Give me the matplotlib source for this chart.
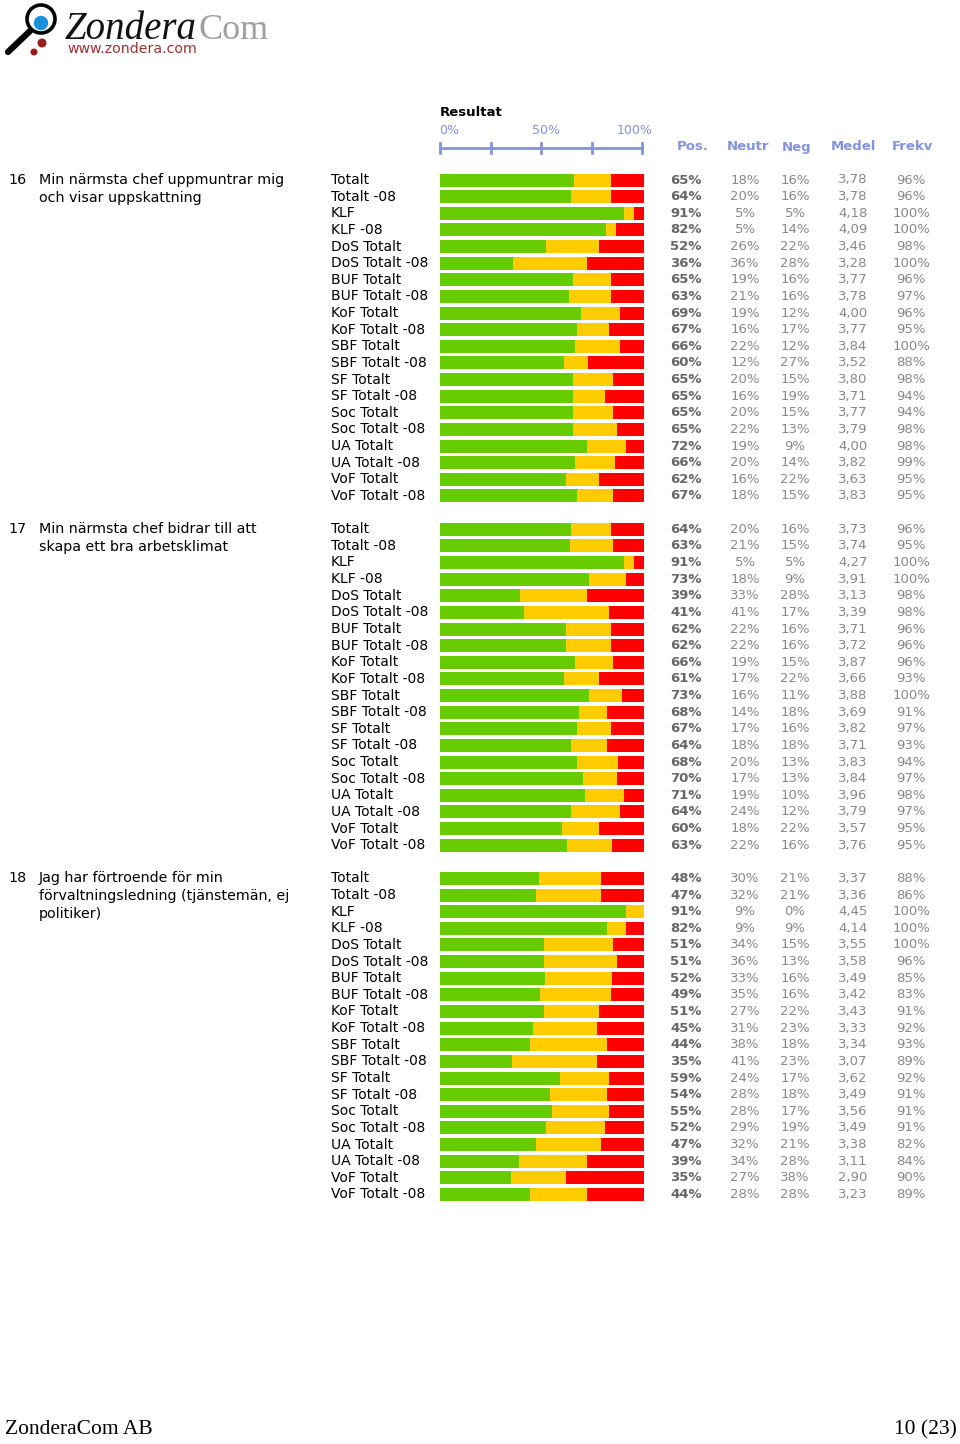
import matplotlib.pyplot as plt
from matplotlib.patches import Circle

# etiketter for varje rad (samma i alla tre fragor)
enheter = ['Totalt', 'Totalt -08', 'KLF', 'KLF -08', 'DoS Totalt', 'DoS Totalt -08',
           'BUF Totalt', 'BUF Totalt -08', 'KoF Totalt', 'KoF Totalt -08',
           'SBF Totalt', 'SBF Totalt -08', 'SF Totalt', 'SF Totalt -08',
           'Soc Totalt', 'Soc Totalt -08', 'UA Totalt', 'UA Totalt -08',
           'VoF Totalt', 'VoF Totalt -08']

fragor = ['16', '17', '18']
fragetext = [['Min närmsta chef uppmuntrar mig', 'och visar uppskattning'],
             ['Min närmsta chef bidrar till att', 'skapa ett bra arbetsklimat'],
             ['Jag har förtroende för min', 'förvaltningsledning (tjänstemän, ej', 'politiker)']]

pos16 = [65, 64, 91, 82, 52, 36, 65, 63, 69, 67, 66, 60, 65, 65, 65, 65, 72, 66, 62, 67]
neutr16 = [18, 20, 5, 5, 26, 36, 19, 21, 19, 16, 22, 12, 20, 16, 20, 22, 19, 20, 16, 18]
neg16 = [16, 16, 5, 14, 22, 28, 16, 16, 12, 17, 12, 27, 15, 19, 15, 13, 9, 14, 22, 15]
medel16 = ['3,78', '3,78', '4,18', '4,09', '3,46', '3,28', '3,77', '3,78', '4,00', '3,77',
           '3,84', '3,52', '3,80', '3,71', '3,77', '3,79', '4,00', '3,82', '3,63', '3,83']
frekv16 = [96, 96, 100, 100, 98, 100, 96, 97, 96, 95, 100, 88, 98, 94, 94, 98, 98, 99, 95, 95]

pos17 = [64, 63, 91, 73, 39, 41, 62, 62, 66, 61, 73, 68, 67, 64, 68, 70, 71, 64, 60, 63]
neutr17 = [20, 21, 5, 18, 33, 41, 22, 22, 19, 17, 16, 14, 17, 18, 20, 17, 19, 24, 18, 22]
neg17 = [16, 15, 5, 9, 28, 17, 16, 16, 15, 22, 11, 18, 16, 18, 13, 13, 10, 12, 22, 16]
medel17 = ['3,73', '3,74', '4,27', '3,91', '3,13', '3,39', '3,71', '3,72', '3,87', '3,66',
           '3,88', '3,69', '3,82', '3,71', '3,83', '3,84', '3,96', '3,79', '3,57', '3,76']
frekv17 = [96, 95, 100, 100, 98, 98, 96, 96, 96, 93, 100, 91, 97, 93, 94, 97, 98, 97, 95, 95]

pos18 = [48, 47, 91, 82, 51, 51, 52, 49, 51, 45, 44, 35, 59, 54, 55, 52, 47, 39, 35, 44]
neutr18 = [30, 32, 9, 9, 34, 36, 33, 35, 27, 31, 38, 41, 24, 28, 28, 29, 32, 34, 27, 28]
neg18 = [21, 21, 0, 9, 15, 13, 16, 16, 22, 23, 18, 23, 17, 18, 17, 19, 21, 28, 38, 28]
medel18 = ['3,37', '3,36', '4,45', '4,14', '3,55', '3,58', '3,49', '3,42', '3,43', '3,33',
           '3,34', '3,07', '3,62', '3,49', '3,56', '3,49', '3,38', '3,11', '2,90', '3,23']
frekv18 = [88, 86, 100, 100, 100, 96, 85, 83, 91, 92, 93, 89, 92, 91, 91, 91, 82, 84, 90, 89]

pos_alla = [pos16, pos17, pos18]
neutr_alla = [neutr16, neutr17, neutr18]
neg_alla = [neg16, neg17, neg18]
medel_alla = [medel16, medel17, medel18]
frekv_alla = [frekv16, frekv17, frekv18]

kolumner = ['Pos.', 'Neutr', 'Neg', 'Medel', 'Frekv']
skala = ['0%', '50%', '100%']

GRON = '#66cc00'
GUL = '#ffcc00'
ROD = '#ff0000'
BLA = '#8393dc'

plt.rcParams['font.family'] = ['DejaVu Sans']

fig = plt.figure(figsize=(9.6, 14.44), dpi=100)
ax = fig.add_axes([0, 0, 1, 1])
ax.set_xlim(0, 960)
ax.set_ylim(1444, 0)
ax.axis('off')

# logga
ax.plot([30, 8], [31, 52], color='black', lw=4.5, solid_capstyle='round')
ax.add_patch(Circle((41, 19), 14, fill=False, lw=2.6, color='black'))
ax.add_patch(Circle((41, 23), 6.5, color='#1a8fdc'))
ax.add_patch(Circle((42, 43), 3.8, color='#9b1a1a'))
ax.add_patch(Circle((34, 52), 2.8, color='#9b1a1a'))
ax.text(65, 39, 'Zondera', fontsize=28, family='Liberation Serif', style='italic', color='#111111')
ax.text(198, 39, 'Com', fontsize=26, family='Liberation Serif', color='#a0a0a0')
ax.text(67, 53, 'www.zondera.com', fontsize=10.2, family='DejaVu Sans', color='#993333')

# rubrik och skala
x0 = 440
bredd = 204
ax.text(x0, 112, 'Resultat', fontsize=9.5, fontweight='bold', va='center', color='black')
ax.text(x0 - 1, 130, skala[0], fontsize=9, va='center', ha='left', color=BLA)
ax.text(546, 130, skala[1], fontsize=9, va='center', ha='center', color=BLA)
ax.text(653, 130, skala[2], fontsize=9, va='center', ha='right', color=BLA)
ax.plot([x0, x0 + bredd - 2], [148, 148], color=BLA, lw=2)
for t in [0, 0.25, 0.5, 0.75, 1.0]:
    xt = x0 + t * (bredd - 2)
    ax.plot([xt, xt], [143, 153], color=BLA, lw=2)

kol_x = [693, 748, 797, 853, 912]
for i in range(len(kolumner)):
    ax.text(kol_x[i], 147, kolumner[i], fontsize=9.5, fontweight='bold', ha='center', va='center', color=BLA)

data_x = [686, 745, 795, 853, 911]
steg = 16.63
start = 180

for g in range(3):
    y_start = start + g * 21 * steg
    ax.text(8, y_start, fragor[g], fontsize=10.3, va='center', color='black')
    for r in range(len(fragetext[g])):
        ax.text(39, y_start + r * 18, fragetext[g][r], fontsize=10.3, va='center', color='black')

    p = pos_alla[g]
    n = neutr_alla[g]
    m = neg_alla[g]
    ys = [y_start + i * steg for i in range(len(enheter))]
    summa = [p[i] + n[i] + m[i] for i in range(len(p))]
    pw = [bredd * p[i] / summa[i] for i in range(len(p))]
    nw = [bredd * n[i] / summa[i] for i in range(len(p))]
    mw = [bredd * m[i] / summa[i] for i in range(len(p))]
    vanster_n = [x0 + pw[i] for i in range(len(p))]
    vanster_m = [x0 + pw[i] + nw[i] for i in range(len(p))]
    ax.barh(ys, pw, left=x0, height=13, color=GRON)
    ax.barh(ys, nw, left=vanster_n, height=13, color=GUL)
    ax.barh(ys, mw, left=vanster_m, height=13, color=ROD)

    for i in range(len(enheter)):
        y = ys[i]
        ax.text(331, y, enheter[i], fontsize=10, va='center', color='black')
        ax.text(data_x[0], y, str(p[i]) + '%', fontsize=9.5, fontweight='bold', ha='center', va='center', color='#666666')
        ax.text(data_x[1], y, str(n[i]) + '%', fontsize=9.5, ha='center', va='center', color='#888888')
        ax.text(data_x[2], y, str(m[i]) + '%', fontsize=9.5, ha='center', va='center', color='#888888')
        ax.text(data_x[3], y, medel_alla[g][i], fontsize=9.5, ha='center', va='center', color='#888888')
        ax.text(data_x[4], y, str(frekv_alla[g][i]) + '%', fontsize=9.5, ha='center', va='center', color='#888888')

# sidfot
ax.text(5, 1430, 'ZonderaCom AB', fontsize=15.5, family='Liberation Serif', va='center', color='black')
ax.text(957, 1430, '10 (23)', fontsize=15.5, family='Liberation Serif', va='center', ha='right', color='black')

fig.savefig('out.png', dpi=100)
